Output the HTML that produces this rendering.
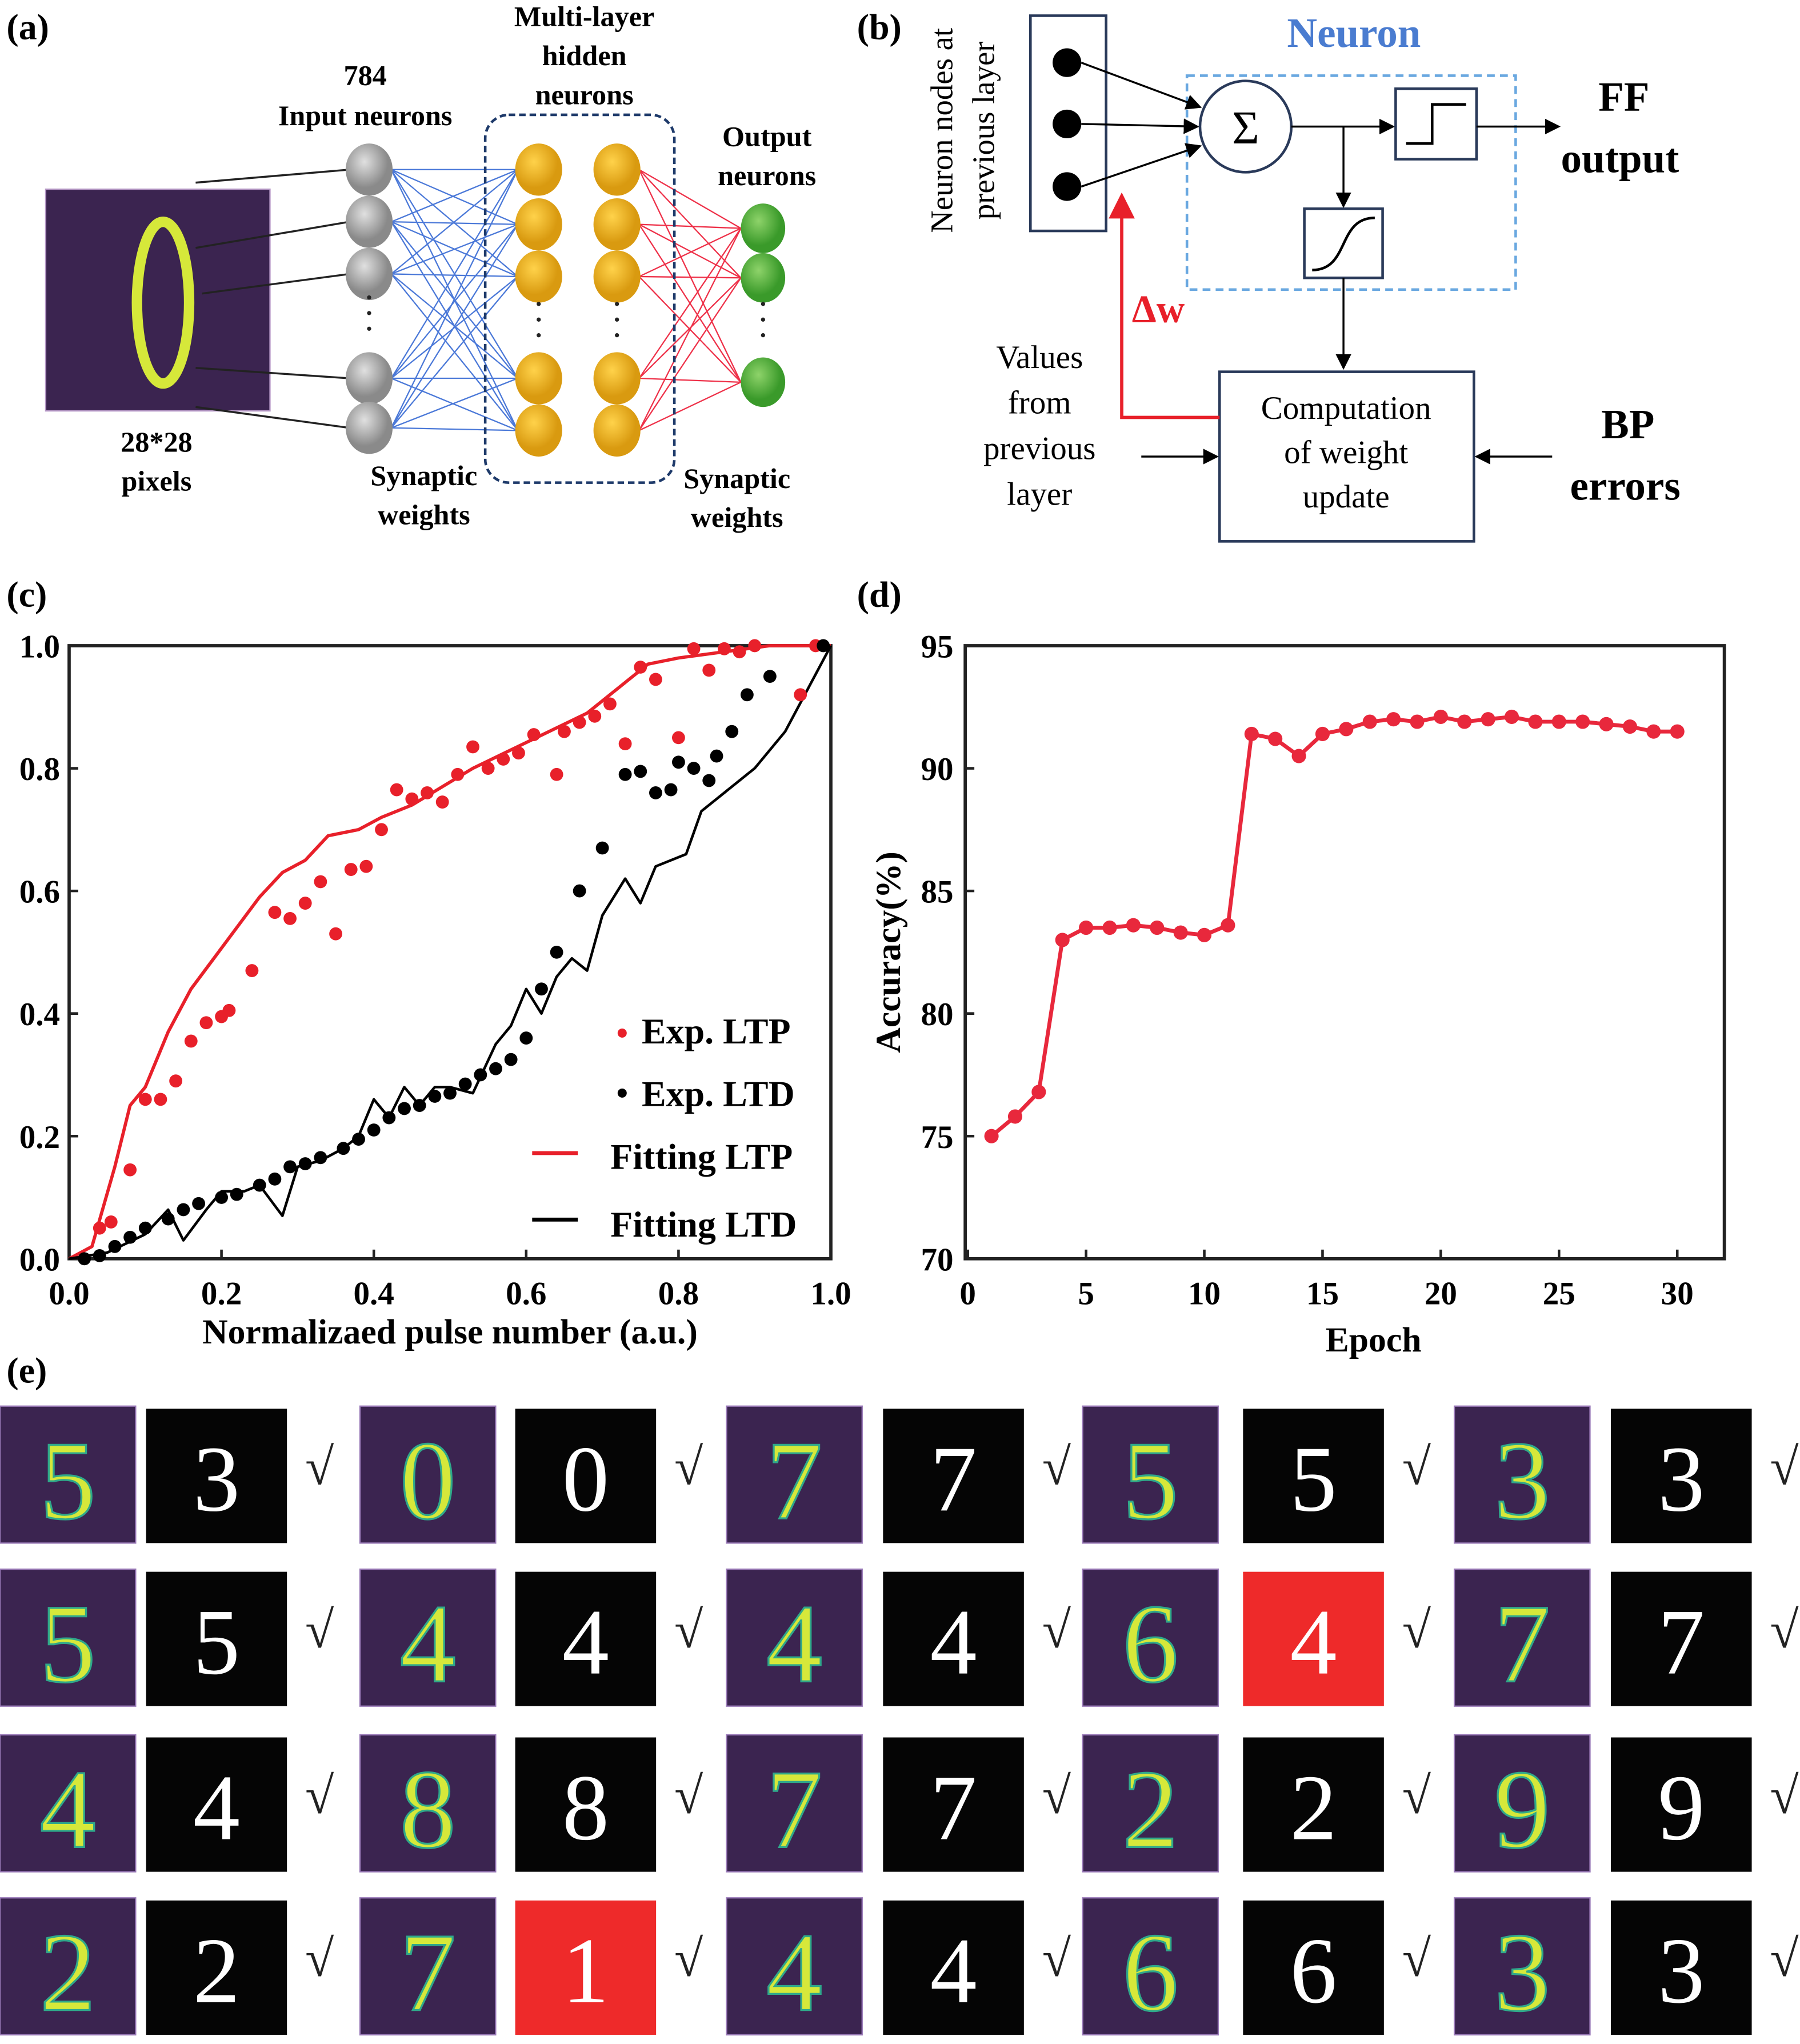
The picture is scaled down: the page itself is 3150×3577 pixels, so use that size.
<!DOCTYPE html>
<html><head><meta charset="utf-8"><style>
html,body{margin:0;padding:0;background:#fff}
svg{display:block}
text{font-family:"Liberation Serif",serif}
.b{font-weight:bold}
</style></head><body>
<svg id="fig" width="3150" height="3577" viewBox="0 0 1380 1567" xmlns="http://www.w3.org/2000/svg">
<defs>
<marker id="ah" markerWidth="8" markerHeight="8" refX="7" refY="4" orient="auto"><path d="M0,0 L8,4 L0,8 z" fill="#000"/></marker>
<marker id="ahr" markerWidth="8" markerHeight="8" refX="7" refY="4" orient="auto"><path d="M0,0 L8,4 L0,8 z" fill="#e8202a"/></marker>
<radialGradient id="gGray" cx="40%" cy="35%"><stop offset="0" stop-color="#e0e0e0"/><stop offset="1" stop-color="#8a8a8a"/></radialGradient>
<radialGradient id="gOr" cx="40%" cy="35%"><stop offset="0" stop-color="#ffd24a"/><stop offset="1" stop-color="#d99a10"/></radialGradient>
<radialGradient id="gGr" cx="40%" cy="35%"><stop offset="0" stop-color="#8ed36a"/><stop offset="1" stop-color="#3a9a2a"/></radialGradient>
</defs>

<!-- PANEL A -->
<g>
<text x="5" y="30" font-size="28" class="b">(a)</text>
<rect x="35" y="145" width="172" height="170" fill="#3b2450" stroke="#b89ac8"/>
<ellipse cx="125" cy="232" rx="20" ry="62" fill="none" stroke="#d6e83a" stroke-width="8"/>
<g id="aLines"></g>
<rect x="372" y="88" width="145" height="282" rx="18" fill="none" stroke="#1e3a6a" stroke-width="2" stroke-dasharray="5,3"/>
<g id="aNodes"></g>
<text x="280" y="65" font-size="22" class="b" text-anchor="middle">784</text>
<text x="280" y="96" font-size="22" class="b" text-anchor="middle">Input neurons</text>
<text x="448" y="20" font-size="22" class="b" text-anchor="middle">Multi-layer</text>
<text x="448" y="50" font-size="22" class="b" text-anchor="middle">hidden</text>
<text x="448" y="80" font-size="22" class="b" text-anchor="middle">neurons</text>
<text x="588" y="112" font-size="22" class="b" text-anchor="middle">Output</text>
<text x="588" y="142" font-size="22" class="b" text-anchor="middle">neurons</text>
<text x="120" y="346" font-size="22" class="b" text-anchor="middle">28*28</text>
<text x="120" y="376" font-size="22" class="b" text-anchor="middle">pixels</text>
<text x="325" y="372" font-size="22" class="b" text-anchor="middle">Synaptic</text>
<text x="325" y="402" font-size="22" class="b" text-anchor="middle">weights</text>
<text x="565" y="374" font-size="22" class="b" text-anchor="middle">Synaptic</text>
<text x="565" y="404" font-size="22" class="b" text-anchor="middle">weights</text>
</g>

<!-- PANEL B -->
<g>
<text x="657" y="30" font-size="28" class="b">(b)</text>
<text transform="translate(730,100) rotate(-90)" font-size="24" text-anchor="middle">Neuron nodes at</text>
<text transform="translate(762,100) rotate(-90)" font-size="24" text-anchor="middle">previous layer</text>
<rect x="790" y="12" width="58" height="165" fill="none" stroke="#2a3a5a" stroke-width="2"/>
<circle cx="818" cy="48" r="11" fill="#000"/><circle cx="818" cy="95" r="11" fill="#000"/><circle cx="818" cy="143" r="11" fill="#000"/>
<rect x="910" y="58" width="252" height="164" fill="none" stroke="#6aa8e0" stroke-width="2" stroke-dasharray="6,4"/>
<text x="1038" y="36" font-size="32" class="b" fill="#4a7cd0" text-anchor="middle">Neuron</text>
<line x1="829" y1="48" x2="920" y2="82" stroke="#000" stroke-width="1.5" marker-end="url(#ah)"/>
<line x1="829" y1="95" x2="918" y2="97" stroke="#000" stroke-width="1.5" marker-end="url(#ah)"/>
<line x1="829" y1="143" x2="920" y2="112" stroke="#000" stroke-width="1.5" marker-end="url(#ah)"/>
<circle cx="955" cy="97" r="35" fill="#fff" stroke="#2a3a5a" stroke-width="2"/>
<text x="955" y="110" font-size="36" text-anchor="middle">Σ</text>
<line x1="990" y1="97" x2="1068" y2="97" stroke="#000" stroke-width="1.5" marker-end="url(#ah)"/>
<rect x="1070" y="68" width="62" height="54" fill="none" stroke="#2a3a5a" stroke-width="2"/>
<path d="M1078,110 H1098 V80 H1124" fill="none" stroke="#000" stroke-width="2"/>
<line x1="1132" y1="97" x2="1195" y2="97" stroke="#000" stroke-width="1.5" marker-end="url(#ah)"/>
<line x1="1030" y1="97" x2="1030" y2="158" stroke="#000" stroke-width="1.5" marker-end="url(#ah)"/>
<rect x="1000" y="160" width="60" height="53" fill="none" stroke="#2a3a5a" stroke-width="2"/>
<path d="M1006,207 C1035,207 1025,167 1054,167" fill="none" stroke="#000" stroke-width="2"/>
<line x1="1030" y1="213" x2="1030" y2="282" stroke="#000" stroke-width="1.5" marker-end="url(#ah)"/>
<text x="1245" y="85" font-size="32" class="b" text-anchor="middle">FF</text>
<text x="1242" y="132" font-size="32" class="b" text-anchor="middle">output</text>
<rect x="935" y="285" width="195" height="130" fill="none" stroke="#2a3a5a" stroke-width="2"/>
<text x="1032" y="321" font-size="25" text-anchor="middle">Computation</text>
<text x="1032" y="355" font-size="25" text-anchor="middle">of weight</text>
<text x="1032" y="389" font-size="25" text-anchor="middle">update</text>
<text x="797" y="282" font-size="25" text-anchor="middle">Values</text>
<text x="797" y="317" font-size="25" text-anchor="middle">from</text>
<text x="797" y="352" font-size="25" text-anchor="middle">previous</text>
<text x="797" y="387" font-size="25" text-anchor="middle">layer</text>
<line x1="875" y1="350" x2="933" y2="350" stroke="#000" stroke-width="1.5" marker-end="url(#ah)"/>
<line x1="1190" y1="350" x2="1132" y2="350" stroke="#000" stroke-width="1.5" marker-end="url(#ah)"/>
<text x="1248" y="336" font-size="32" class="b" text-anchor="middle">BP</text>
<text x="1246" y="383" font-size="32" class="b" text-anchor="middle">errors</text>
<path d="M935,320 H860 V150" fill="none" stroke="#e8202a" stroke-width="2.5" marker-end="url(#ahr)"/>
<text x="888" y="247" font-size="30" class="b" fill="#e8202a" text-anchor="middle">Δw</text>
</g>

<!-- PANEL C -->
<g id="panelC">
<text x="5" y="465" font-size="28" class="b">(c)</text>
<rect x="53" y="495" width="584" height="470" fill="none" stroke="#222" stroke-width="2.5"/>
<text x="345" y="1030" font-size="27" class="b" text-anchor="middle">Normalizaed pulse number (a.u.)</text>
<g>
<circle cx="477" cy="792" r="3.5" fill="#e8202a"/><text x="492" y="800" font-size="28" class="b">Exp. LTP</text>
<circle cx="477" cy="838" r="3.5" fill="#000"/><text x="492" y="848" font-size="28" class="b">Exp. LTD</text>
<line x1="408" y1="884" x2="443" y2="884" stroke="#e8202a" stroke-width="3"/><text x="468" y="896" font-size="28" class="b">Fitting LTP</text>
<line x1="408" y1="935" x2="443" y2="935" stroke="#000" stroke-width="3"/><text x="468" y="948" font-size="28" class="b">Fitting LTD</text>
</g>
</g>

<!-- PANEL D -->
<g id="panelD">
<text x="657" y="465" font-size="28" class="b">(d)</text>
<rect x="740" y="495" width="582" height="470" fill="none" stroke="#222" stroke-width="2.5"/>
<text transform="translate(690,730) rotate(-90)" font-size="27" class="b" text-anchor="middle">Accuracy(%)</text>
<text x="1053" y="1036" font-size="27" class="b" text-anchor="middle">Epoch</text>
</g>

<!-- PANEL E -->
<g id="panelE">
<text x="5" y="1060" font-size="28" class="b">(e)</text>
</g>
</svg>
<script>
const NS="http://www.w3.org/2000/svg";
function mk(parent,tag,attrs){const e=document.createElementNS(NS,tag);for(const k in attrs)e.setAttribute(k,attrs[k]);parent.appendChild(e);return e;}

// ---- panel c data ----
const ltpX=[0.04,0.055,0.08,0.1,0.12,0.14,0.16,0.18,0.2,0.21,0.24,0.27,0.29,0.31,0.33,0.35,0.37,0.39,0.41,0.43,0.45,0.47,0.49,0.51,0.53,0.55,0.57,0.59,0.61,0.64,0.65,0.67,0.69,0.71,0.73,0.75,0.77,0.8,0.82,0.84,0.86,0.88,0.9,0.96,0.98];
const ltpY=[0.05,0.06,0.145,0.26,0.26,0.29,0.355,0.385,0.395,0.405,0.47,0.565,0.555,0.58,0.615,0.53,0.635,0.64,0.7,0.765,0.75,0.76,0.745,0.79,0.835,0.8,0.815,0.825,0.855,0.79,0.86,0.875,0.885,0.905,0.84,0.965,0.945,0.85,0.995,0.96,0.995,0.99,1.0,0.92,1.0];
const ltdX=[0.02,0.04,0.06,0.08,0.1,0.13,0.15,0.17,0.2,0.22,0.25,0.27,0.29,0.31,0.33,0.36,0.38,0.4,0.42,0.44,0.46,0.48,0.5,0.52,0.54,0.56,0.58,0.6,0.62,0.64,0.67,0.7,0.73,0.75,0.77,0.79,0.8,0.82,0.84,0.85,0.87,0.89,0.92,0.99];
const ltdY=[0,0.005,0.02,0.035,0.05,0.065,0.08,0.09,0.1,0.105,0.12,0.13,0.15,0.155,0.165,0.18,0.195,0.21,0.23,0.245,0.25,0.265,0.27,0.285,0.3,0.31,0.325,0.36,0.44,0.5,0.6,0.67,0.79,0.795,0.76,0.765,0.81,0.8,0.78,0.82,0.86,0.92,0.95,1.0];
const fitLtpX=[0,0.03,0.06,0.08,0.1,0.13,0.16,0.19,0.22,0.25,0.28,0.31,0.34,0.38,0.41,0.45,0.49,0.53,0.58,0.63,0.68,0.72,0.76,0.8,0.86,0.92,1];
const fitLtpY=[0,0.02,0.15,0.25,0.28,0.37,0.44,0.49,0.54,0.59,0.63,0.65,0.69,0.7,0.72,0.74,0.77,0.8,0.83,0.86,0.89,0.93,0.97,0.98,0.99,1.0,1.0];
const fitLtdX=[0,0.05,0.1,0.13,0.15,0.18,0.2,0.23,0.25,0.28,0.3,0.33,0.36,0.38,0.4,0.42,0.44,0.46,0.48,0.5,0.53,0.56,0.58,0.6,0.62,0.64,0.66,0.68,0.7,0.73,0.75,0.77,0.81,0.83,0.86,0.9,0.94,0.97,1];
const fitLtdY=[0,0.01,0.04,0.08,0.03,0.08,0.11,0.11,0.12,0.07,0.15,0.16,0.18,0.2,0.26,0.23,0.28,0.25,0.28,0.28,0.27,0.35,0.38,0.44,0.4,0.46,0.49,0.47,0.56,0.62,0.58,0.64,0.66,0.73,0.76,0.8,0.86,0.93,1.0];
const cTicks=["0.0","0.2","0.4","0.6","0.8","1.0"];

// ---- panel d data ----
const epochs=[1,2,3,4,5,6,7,8,9,10,11,12,13,14,15,16,17,18,19,20,21,22,23,24,25,26,27,28,29,30];
const accuracy=[75.0,75.8,76.8,83.0,83.5,83.5,83.6,83.5,83.3,83.2,83.6,91.4,91.2,90.5,91.4,91.6,91.9,92.0,91.9,92.1,91.9,92.0,92.1,91.9,91.9,91.9,91.8,91.7,91.5,91.5];
const dYTicks=["70","75","80","85","90","95"];
const dXTicks=["0","5","10","15","20","25","30"];

// ---- panel e data ----
const inputDigits=[["5","0","7","5","3"],["5","4","4","6","7"],["4","8","7","2","9"],["2","7","4","6","3"]];
const predDigits=[["3","0","7","5","3"],["5","4","4","4","7"],["4","8","7","2","9"],["2","1","4","6","3"]];
const highlighted=[[0,0,0,0,0],[0,0,0,1,0],[0,0,0,0,0],[0,1,0,0,0]];

// panel c axes
const cx=v=>53+v*584, cy=v=>965-v*470;
const C=document.getElementById('panelC');
cTicks.forEach((t,i)=>{const v=+t;
 let l=mk(C,'line',{x1:53,x2:60,y1:cy(v),y2:cy(v),stroke:'#222','stroke-width':2});
 
 
 let tx=mk(C,'text',{x:46,y:cy(v)+9,'font-size':25,'font-weight':'bold','text-anchor':'end'});tx.textContent=t;
 
 
 let l2=mk(C,'line',{x1:cx(v),x2:cx(v),y1:965,y2:958,stroke:'#222','stroke-width':2});
 
 
 let tx2=mk(C,'text',{x:cx(v),y:1000,'font-size':25,'font-weight':'bold','text-anchor':'middle'});tx2.textContent=t;
 
 
});
function line(P,xs,ys,fx,fy,col,w,name){const p=mk(P,'polyline',{points:xs.map((x,i)=>fx(x)+','+fy(ys[i])).join(' '),fill:'none',stroke:col,'stroke-width':w,'stroke-linejoin':'round'});
 
 }
function dots(P,xs,ys,fx,fy,col,r,name){xs.forEach((x,i)=>{const c=mk(P,'circle',{cx:fx(x),cy:fy(ys[i]),r:r,fill:col});
 
 });}
line(C,fitLtpX,fitLtpY,cx,cy,'#e8202a',2.5,'fitting-ltp-line');
line(C,fitLtdX,fitLtdY,cx,cy,'#000',2,'fitting-ltd-line');
dots(C,ltpX,ltpY,cx,cy,'#e8202a',5,'exp-ltp-point');
dots(C,ltdX,ltdY,cx,cy,'#000',5,'exp-ltd-point');

// panel d
const dx=v=>742+v*18.13, dy=v=>965-(v-70)*18.8;
const D=document.getElementById('panelD');
dYTicks.forEach(t=>{const v=+t;
 let l=mk(D,'line',{x1:740,x2:747,y1:dy(v),y2:dy(v),stroke:'#222','stroke-width':2});
 
 
 let tx=mk(D,'text',{x:731,y:dy(v)+9,'font-size':25,'font-weight':'bold','text-anchor':'end'});tx.textContent=t;
 
 });
dXTicks.forEach(t=>{const v=+t;
 let l=mk(D,'line',{x1:dx(v),x2:dx(v),y1:965,y2:958,stroke:'#222','stroke-width':2});
 
 
 let tx=mk(D,'text',{x:dx(v),y:1000,'font-size':25,'font-weight':'bold','text-anchor':'middle'});tx.textContent=t;
 
 });
line(D,epochs,accuracy,dx,dy,'#e8283c',3,'accuracy-line');
dots(D,epochs,accuracy,dx,dy,'#e8283c',5.5,'accuracy-point');

// panel a nodes/lines
const A=document.getElementById('aLines'), N=document.getElementById('aNodes');
const inY=[130,170,210,290,328], hY=[130,172,212,290,330], oY=[175,213,293];
[[150,140,268,130],[150,190,268,170],[155,225,268,210],[150,282,268,290],[150,312,268,328]].forEach(s=>mk(A,'line',{x1:s[0],y1:s[1],x2:s[2],y2:s[3],stroke:'#222','stroke-width':1.5}));
inY.forEach(a=>hY.forEach(b=>mk(A,'line',{x1:300,y1:a,x2:397,y2:b,stroke:'#4a78d8','stroke-width':1})));
hY.forEach(a=>oY.forEach(b=>mk(A,'line',{x1:490,y1:a,x2:568,y2:b,stroke:'#ee3048','stroke-width':1})));
inY.forEach(y=>mk(N,'ellipse',{cx:283,cy:y,rx:18,ry:20,fill:'url(#gGray)'}));
hY.forEach(y=>{mk(N,'ellipse',{cx:413,cy:y,rx:18,ry:20,fill:'url(#gOr)'});mk(N,'ellipse',{cx:473,cy:y,rx:18,ry:20,fill:'url(#gOr)'});});
oY.forEach(y=>mk(N,'ellipse',{cx:585,cy:y,rx:17,ry:19,fill:'url(#gGr)'}));
[[283,240],[413,245],[473,245],[585,245]].forEach(p=>{[-12,0,12].forEach(o=>mk(N,'circle',{cx:p[0],cy:p[1]+o,r:1.6,fill:'#222'}));});

// panel e grid
const E=document.getElementById('panelE');
const rowY=[1078,1203,1330,1455], imgX=[0,276,557,830,1115], boxX=[112,395,677,953,1235];
inputDigits.forEach((row,r)=>row.forEach((d,c)=>{
 const y=rowY[r];
 const im=mk(E,'rect',{x:imgX[c],y:y,width:104,height:105,fill:'#3b2450',stroke:'#9a7ab8','stroke-width':1});
 
 
 const t=mk(E,'text',{x:imgX[c]+52,y:y+86,'font-size':86,'font-family':'Liberation Sans, sans-serif','text-anchor':'middle',fill:'#d6e83a',stroke:'#2fa88a','stroke-width':1.5});t.textContent=d;
 
 
 const wrong=highlighted[r][c]===1;
 const bx=mk(E,'rect',{x:boxX[c],y:y+2,width:108,height:103,fill:wrong?'#ee2a2a':'#050505'});
 
 
 const p=mk(E,'text',{x:boxX[c]+54,y:y+80,'font-size':72,'text-anchor':'middle',fill:'#fff'});p.textContent=predDigits[r][c];
 
 
 const ck=mk(E,'text',{x:boxX[c]+133,y:y+60,'font-size':40,'text-anchor':'middle',fill:'#222'});ck.textContent='√';
 
 
}));
</script>
</body></html>
